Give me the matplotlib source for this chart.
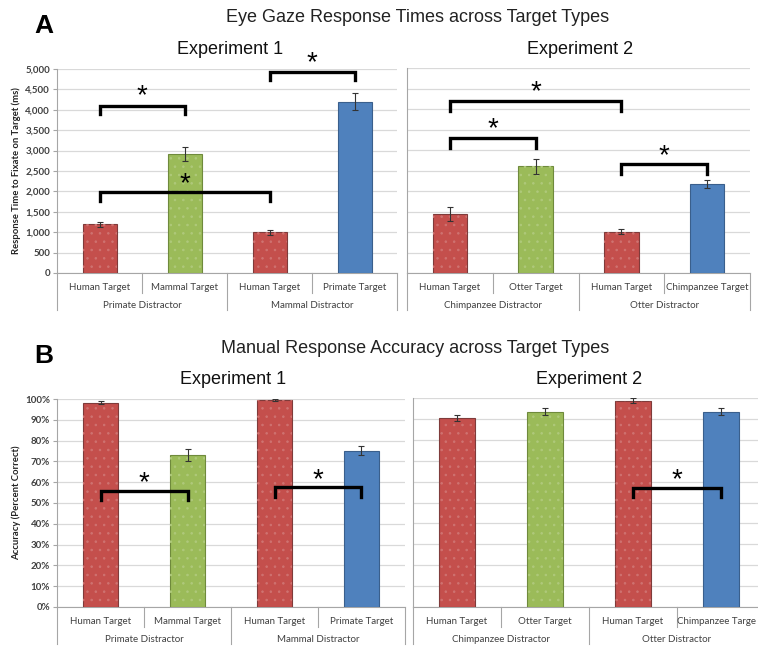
import matplotlib
matplotlib.use('Agg')
import matplotlib.pyplot as plt
import matplotlib.transforms as mtransforms
from matplotlib.ticker import FuncFormatter, MultipleLocator

# ---- data ----
targets_a1 = ['Human Target', 'Mammal Target', 'Human Target', 'Primate Target']
groups_a1 = ['Primate Distractor', 'Mammal Distractor']
rt_exp1 = [1190, 2920, 1000, 4200]
rt_exp1_err = [60, 180, 60, 200]

targets_a2 = ['Human Target', 'Otter Target', 'Human Target', 'Chimpanzee Target']
groups_a2 = ['Chimpanzee Distractor', 'Otter Distractor']
rt_exp2 = [1440, 2600, 1010, 2170]
rt_exp2_err = [170, 190, 60, 100]

acc_exp1 = [0.983, 0.730, 0.995, 0.752]
acc_exp1_err = [0.005, 0.028, 0.004, 0.020]
acc_exp2 = [0.905, 0.935, 0.988, 0.935]
acc_exp2_err = [0.015, 0.015, 0.010, 0.015]
targets_b2 = ['Human Target', 'Otter Target', 'Human Target', 'Chimpanzee Targe']

# significance brackets: (bar i, bar j, bracket height, leg bottom, star height)
sig_a1 = [(0, 1, 4100, 3890, 4330), (2, 3, 4935, 4730, 5150), (0, 2, 1980, 1760, 2170)]
sig_a2 = [(0, 2, 4190, 3950, 4400), (0, 1, 3300, 3055, 3510), (2, 3, 2670, 2425, 2860)]
sig_b1 = [(0, 1, 0.559, 0.514, 0.595), (2, 3, 0.575, 0.530, 0.612)]
sig_b2 = [(2, 3, 0.571, 0.527, 0.608)]

bar_colors = ['#C44F4C', '#9BBB59', '#C44F4C', '#4F81BD']
dot_colors = ['#CF7371', '#AFC97B', '#CF7371', None]
edge_colors = ['#7F3B3A', '#6F8A3C', '#7F3B3A', '#3A5F8C']

TXT = '#404040'
GRID = '#D9D9D9'
AX = '#A6A6A6'
W, H = 758, 648

plt.rcParams['font.family'] = ['Liberation Sans', 'DejaVu Sans']
plt.rcParams['hatch.linewidth'] = 0.6
fig = plt.figure(figsize=(W / 100, H / 100), dpi=100)


def px_axes(x0, y_top, x1, y_bot):
    return fig.add_axes([x0 / W, 1 - y_bot / H, (x1 - x0) / W, (y_bot - y_top) / H])


def draw_panel(ax, vals, errs, targets, groups, sig, ymax, ystep, show_y, fmt):
    x = list(range(len(vals)))
    ax.bar(x, vals, width=0.40, color=bar_colors, edgecolor=edge_colors,
           linewidth=0.8, zorder=3)
    for xi, v, dc in zip(x, vals, dot_colors):
        if dc is not None:
            ax.bar(xi, v, width=0.40, color='none', edgecolor=dc, hatch='..',
                   linewidth=0, zorder=3.5)
    ax.errorbar(x, vals, yerr=errs, fmt='none', ecolor='#333333', elinewidth=0.8,
                capsize=2, capthick=0.8, zorder=4)
    ax.set_xlim(-0.5, len(vals) - 0.5)
    ax.set_ylim(0, ymax)
    ax.yaxis.set_major_locator(MultipleLocator(ystep))
    ax.yaxis.grid(True, color=GRID, linewidth=0.9, zorder=0)
    ax.set_axisbelow(True)
    for s in ['top', 'right']:
        ax.spines[s].set_visible(False)
    ax.spines['left'].set_color(AX)
    ax.spines['bottom'].set_color(AX)
    ax.set_xticks([])
    if show_y:
        ax.yaxis.set_major_formatter(FuncFormatter(fmt))
        ax.tick_params(axis='y', length=3, color=AX, labelsize=7, labelcolor=TXT, pad=2)
        for lab in ax.get_yticklabels():
            lab.set_fontweight('bold')
            lab.set_family('Lato')
    else:
        ax.tick_params(axis='y', length=0, labelleft=False)

    # category axis with two label rows
    tr = mtransforms.blended_transform_factory(ax.transData, ax.transAxes)
    h = ax.get_position().height * H
    d1 = 20 / h
    d2 = 37 / h
    labels = []
    for xi, lab in zip(x, targets):
        labels.append(ax.text(xi, -14 / h, lab, transform=tr, ha='center', va='center',
                              fontsize=7, color=TXT, family='Lato'))
    for gi, lab in enumerate(groups):
        ax.text(gi * 2 + 0.5, -32 / h, lab, transform=tr, ha='center', va='center',
                fontsize=7, color=TXT, family='Lato')
    for b in [-0.5, 1.5, 3.5]:
        ax.plot([b, b], [0, -d2], transform=tr, color=AX, lw=0.8, clip_on=False)
    for b in [0.5, 2.5]:
        ax.plot([b, b], [0, -d1], transform=tr, color=AX, lw=0.8, clip_on=False)

    for i, j, ytop, yleg, ystar in sig:
        ax.plot([i, i, j, j], [yleg, ytop, ytop, yleg], color='black', lw=2.4,
                solid_joinstyle='miter', clip_on=False, zorder=6)
        ax.text((i + j) / 2, ystar, '*', ha='center', va='center', fontsize=20,
                color='black', zorder=6)
    return labels


def fmt_ms(v, pos):
    return f'{int(v):,}'


def fmt_pct(v, pos):
    return f'{v * 100:.0f}%'


ax1 = px_axes(57, 69, 397, 273)
draw_panel(ax1, rt_exp1, rt_exp1_err, targets_a1, groups_a1, sig_a1, 5000, 500, True, fmt_ms)
ax1.set_ylabel('Response Time to Fixate on Target (ms)', fontsize=6.8, fontweight='bold',
               color='#222222', family='Lato', labelpad=3)

ax2 = px_axes(407, 68, 750, 273)
draw_panel(ax2, rt_exp2, rt_exp2_err, targets_a2, groups_a2, sig_a2, 5000, 500, False, fmt_ms)

ax3 = px_axes(57, 399, 405, 607)
draw_panel(ax3, acc_exp1, acc_exp1_err, targets_a1, groups_a1, sig_b1, 1.0, 0.1, True, fmt_pct)
ax3.set_ylabel('Accuracy (Percent Correct)', fontsize=6.8, fontweight='bold',
               color='#222222', family='Lato', labelpad=3)

ax4 = px_axes(413, 398, 765, 607)
b2_labels = draw_panel(ax4, acc_exp2, acc_exp2_err, targets_b2, groups_a2, sig_b2,
                       1.0, 0.1, False, fmt_pct)
# the last label runs into the right edge, as in the original: pin its end inside
last = b2_labels[-1]
last.set_transform(mtransforms.blended_transform_factory(fig.transFigure, ax4.transAxes))
last.set_x(756 / W)
last.set_ha('right')

# titles
fig.text(34 / W, 1 - 26 / H, 'A', fontsize=19, fontweight='bold', va='center', ha='left')
fig.text(418 / W, 1 - 17 / H, 'Eye Gaze Response Times across Target Types',
         fontsize=13, va='center', ha='center', color='#222222')
fig.text(230 / W, 1 - 49 / H, 'Experiment 1', fontsize=13, va='center', ha='center', color='#111111')
fig.text(580 / W, 1 - 49 / H, 'Experiment 2', fontsize=13, va='center', ha='center', color='#111111')

fig.text(34 / W, 1 - 356 / H, 'B', fontsize=19, fontweight='bold', va='center', ha='left')
fig.text(415 / W, 1 - 348 / H, 'Manual Response Accuracy across Target Types',
         fontsize=13, va='center', ha='center', color='#222222')
fig.text(233 / W, 1 - 379 / H, 'Experiment 1', fontsize=13, va='center', ha='center', color='#111111')
fig.text(589 / W, 1 - 379 / H, 'Experiment 2', fontsize=13, va='center', ha='center', color='#111111')

fig.savefig('out.png', dpi=100, facecolor='white')
